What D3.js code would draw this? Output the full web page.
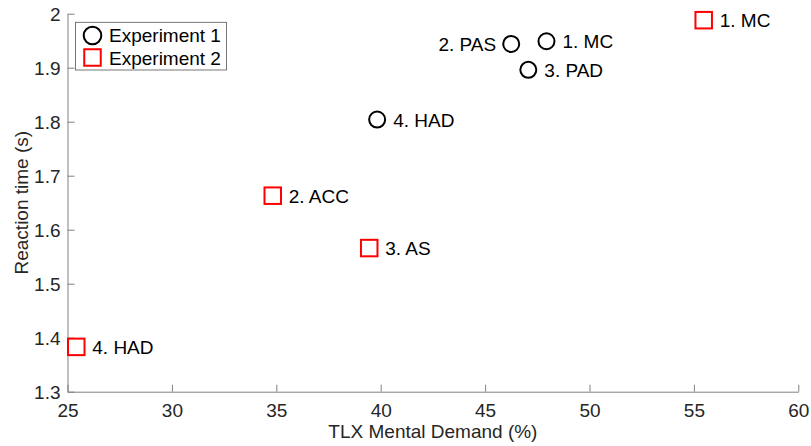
<!DOCTYPE html>
<html>
<head>
<meta charset="utf-8">
<script src="https://cdn.jsdelivr.net/npm/d3@7"></script>
<style>
html,body{margin:0;padding:0;background:#fff;}
svg{display:block;font-family:"Liberation Sans",Arial,Helvetica,sans-serif;}
</style>
</head>
<body>
<svg id="chart" width="811" height="446"></svg>
<script>
// ---- data ----
const exp1Labels = ["1. MC", "2. PAS", "3. PAD", "4. HAD"];
const exp1X = [47.94, 46.25, 47.07, 39.83];
const exp1Y = [1.949, 1.944, 1.896, 1.804];

const exp2Labels = ["1. MC", "2. ACC", "3. AS", "4. HAD"];
const exp2X = [55.47, 34.83, 39.45, 25.42];
const exp2Y = [1.988, 1.663, 1.566, 1.383];

const xTicks = [25, 30, 35, 40, 45, 50, 55, 60];
const yTicks = [1.3, 1.4, 1.5, 1.6, 1.7, 1.8, 1.9, 2.0];
const seriesNames = ["Experiment 1", "Experiment 2"];

// ---- layout ----
const W = 811, H = 446;
const L = 67.5, R = 798.3, T = 13.7, B = 391.7;
const svg = d3.select("#chart");
const x = d3.scaleLinear().domain([25, 60]).range([L, R]);
const y = d3.scaleLinear().domain([1.3, 2.0]).range([B, T]);
const axisCol = "#808080", textCol = "#262626";
const fs = 19;

// axes
const xAxis = d3.axisBottom(x).tickValues(xTicks).tickSizeInner(-7).tickSizeOuter(0).tickPadding(12)
  .tickFormat(d3.format("d"));
const yAxis = d3.axisLeft(y).tickValues(yTicks).tickSizeInner(-7).tickSizeOuter(0).tickPadding(7)
  .tickFormat(d => d === 2 ? "2" : d3.format(".1f")(d));

const gx = svg.append("g").attr("transform", `translate(0,${B})`).call(xAxis);
const gy = svg.append("g").attr("transform", `translate(${L},0)`).call(yAxis);
[gx, gy].forEach(g => {
  g.select(".domain").attr("stroke", axisCol).attr("stroke-width", 1);
  g.selectAll(".tick line").attr("stroke", axisCol).attr("stroke-width", 1);
  g.selectAll(".tick text").attr("fill", textCol).attr("font-size", fs)
    .attr("font-family", '"Liberation Sans",Arial,sans-serif');
});
gx.selectAll(".tick text").attr("dy", "0.71em");
gy.selectAll(".tick text").attr("dy", "0.36em");

// axis labels
svg.append("text").attr("x", (L + R) / 2).attr("y", 438).attr("text-anchor", "middle")
  .attr("fill", textCol).attr("font-size", fs).text("TLX Mental Demand (%)");
svg.append("text").attr("transform", `translate(28,${(T + B) / 2}) rotate(-90)`)
  .attr("text-anchor", "middle").attr("fill", textCol).attr("font-size", fs).text("Reaction time (s)");

// markers
const r = 8, sq = 16.5;
const d1 = exp1X.map((v, i) => ({x: v, y: exp1Y[i], label: exp1Labels[i]}));
const d2 = exp2X.map((v, i) => ({x: v, y: exp2Y[i], label: exp2Labels[i]}));

svg.append("g").selectAll("circle").data(d1).join("circle")
  .attr("cx", d => x(d.x)).attr("cy", d => y(d.y)).attr("r", r)
  .attr("fill", "none").attr("stroke", "#000").attr("stroke-width", 2);
svg.append("g").selectAll("rect").data(d2).join("rect")
  .attr("x", d => x(d.x) - sq / 2).attr("y", d => y(d.y) - sq / 2)
  .attr("width", sq).attr("height", sq)
  .attr("fill", "none").attr("stroke", "#ff0000").attr("stroke-width", 2);

// point labels (the "2. PAS" label sits to the left of its marker)
const leftLabels = new Set(["2. PAS"]);
const labels = d1.map(d => ({...d, left: leftLabels.has(d.label)}))
  .concat(d2.map(d => ({...d, left: false})));
svg.append("g").selectAll("text").data(labels).join("text")
  .attr("x", d => d.left ? x(d.x) - 15 : x(d.x) + 16)
  .attr("y", d => y(d.y) + 7)
  .attr("text-anchor", d => d.left ? "end" : "start")
  .attr("fill", "#000").attr("font-size", fs).text(d => d.label);

// legend
const lg = svg.append("g");
lg.append("rect").attr("x", 75.5).attr("y", 22.3).attr("width", 151).attr("height", 47.7)
  .attr("fill", "#fff").attr("stroke", "#555").attr("stroke-width", 0.8);
lg.append("circle").attr("cx", 92.5).attr("cy", 35.5).attr("r", 8.8)
  .attr("fill", "none").attr("stroke", "#000").attr("stroke-width", 2);
lg.append("rect").attr("x", 92.5 - sq / 2).attr("y", 57.5 - sq / 2).attr("width", sq).attr("height", sq)
  .attr("fill", "none").attr("stroke", "#ff0000").attr("stroke-width", 2);
lg.selectAll("text.lt").data(seriesNames).join("text").attr("class", "lt")
  .attr("x", 109).attr("y", (d, i) => [42.3, 65][i])
  .attr("fill", "#000").attr("font-size", fs).text(d => d);
</script>
</body>
</html>
